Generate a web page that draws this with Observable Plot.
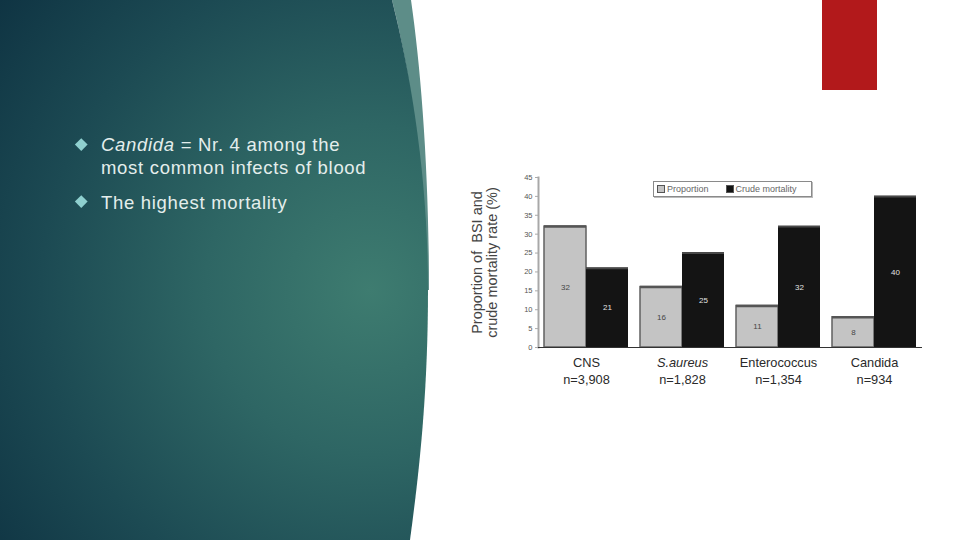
<!DOCTYPE html>
<html>
<head>
<meta charset="utf-8">
<script src="https://cdn.jsdelivr.net/npm/d3@7"></script>
<script src="https://cdn.jsdelivr.net/npm/@observablehq/plot@0.6"></script>
<style>
  html, body { margin: 0; padding: 0; }
  body { width: 960px; height: 540px; position: relative; overflow: hidden; background: #ffffff; font-family: "Liberation Sans", Arial, sans-serif; }
  #bg { position: absolute; left: 0; top: 0; }
  .line { position: absolute; left: 101px; font-size: 18.5px; line-height: 23px; color: #e4eeec; letter-spacing: 0.7px; white-space: nowrap; }
  .diamond { position: absolute; width: 8.5px; height: 8.5px; background: #8fd0cf; transform: rotate(45deg); }
  #redbox { position: absolute; left: 822px; top: 0; width: 55px; height: 90px; background: #b2191b; }
  #chart { position: absolute; left: 460px; top: 165px; }
  #legend { position: absolute; left: 653px; top: 181px; width: 157px; height: 14px; border: 1px solid #8a8a8a; box-shadow: 1px 1px 0 #bbb; background: #fff; font-size: 9px; color: #666; display: flex; align-items: center; }
  #legend .sw { display: inline-block; width: 6px; height: 6px; border: 1px solid #555; margin: 0 2px 0 3px; }
</style>
</head>
<body>
<svg id="bg" width="960" height="540">
  <defs>
    <radialGradient id="g" cx="370" cy="290" r="470" gradientUnits="userSpaceOnUse">
      <stop offset="0" stop-color="#3e7c70"/>
      <stop offset="0.35" stop-color="#2e6664"/>
      <stop offset="0.7" stop-color="#1c4a53"/>
      <stop offset="1" stop-color="#0f3443"/>
    </radialGradient>
  </defs>
  <path d="M392,0 L411,0 C421,70 429,170 429,290 L427,290 C424,170 410,70 392,0 Z" fill="#5d8d88"/>
  <path d="M0,0 L392,0 C412,80 428,180 428,290 C428,400 418,480 410,540 L0,540 Z" fill="url(#g)"/>
</svg>
<div id="redbox"></div>
<div class="diamond" style="left:76.5px; top:140px;"></div>
<div class="line" style="top:132.5px;"><i>Candida</i> = Nr. 4 among the</div>
<div class="line" style="top:155.5px;">most common infects of blood</div>
<div class="diamond" style="left:76.5px; top:197px;"></div>
<div class="line" style="top:190.5px;">The highest mortality</div>
<div id="chart"></div>
<div id="legend"><span class="sw" style="background:#c4c4c4"></span>Proportion<span class="sw" style="background:#141414; margin-left:17px"></span>Crude mortality</div>
<script>
const categories = ["CNS", "S.aureus", "Enterococcus", "Candida"];
const counts = ["n=3,908", "n=1,828", "n=1,354", "n=934"];
const series = ["Proportion", "Crude mortality"];
const proportion = [32, 16, 11, 8];
const mortality = [21, 25, 32, 40];
const yTicks = [0, 5, 10, 15, 20, 25, 30, 35, 40, 45];
const yLabel = "Proportion of  BSI and\ncrude mortality rate (%)";

const data = categories.flatMap((c, i) => [
  {cat: c, series: series[0], value: proportion[i]},
  {cat: c, series: series[1], value: mortality[i]}
]);
const prop = data.filter(d => d.series === series[0]);
const mort = data.filter(d => d.series === series[1]);

const chart = Plot.plot({
  width: 480,
  height: 235,
  marginLeft: 77,
  marginRight: 18,
  marginTop: 12,
  marginBottom: 53,
  style: {fontFamily: "Liberation Sans, Arial, sans-serif", background: "transparent"},
  fx: {domain: categories, padding: 0, axis: null},
  x: {domain: series, paddingInner: 0, paddingOuter: 0.14, axis: null},
  y: {domain: [0, 45], axis: null},
  color: {domain: series, range: ["#c4c4c4", "#141414"]},
  marks: [
    Plot.frame({anchor: "left", facetAnchor: "left", stroke: "#a8a8a8", strokeWidth: 2}),
    Plot.axisY({ticks: yTicks, tickSize: 3, tickPadding: 3, fontSize: 7.5, fill: "#555", stroke: "#aaa", label: null, facetAnchor: "left"}),
    Plot.barY(prop, {fx: "cat", x: "series", y: "value", fill: "series", stroke: "#606060", strokeWidth: 1.5}),
    Plot.barY(mort, {fx: "cat", x: "series", y: "value", fill: "series"}),
    Plot.tickY(prop, {fx: "cat", x: "series", y: "value", stroke: "#555", strokeWidth: 2.5}),
    Plot.tickY(mort, {fx: "cat", x: "series", y: "value", stroke: "#484848", strokeWidth: 2}),
    Plot.ruleY([0], {stroke: "#333", strokeWidth: 1.2}),
    Plot.text(prop, {fx: "cat", x: "series", y: d => d.value / 2, text: "value", fill: "#444", fontSize: 8}),
    Plot.text(mort, {fx: "cat", x: "series", y: d => d.value / 2, text: "value", fill: "#e2e2e2", fontSize: 8}),
    Plot.text(categories.filter(c => c !== "S.aureus"), {fx: d => d, text: d => d, frameAnchor: "bottom", dy: 19, fontSize: 12.8, fill: "#2a2a2a"}),
    Plot.text(categories.filter(c => c === "S.aureus"), {fx: d => d, text: d => d, frameAnchor: "bottom", dy: 19, fontSize: 12.8, fill: "#2a2a2a", fontStyle: "italic"}),
    Plot.text(categories, {fx: d => d, text: (d, i) => counts[i], frameAnchor: "bottom", dy: 36, fontSize: 12.8, fill: "#2a2a2a"}),
    Plot.text([yLabel], {frameAnchor: "left", textAnchor: "middle", rotate: -90, dx: -54, fontSize: 14.5, lineHeight: 1.04, fill: "#444", facetAnchor: "left"})
  ]
});
document.getElementById("chart").appendChild(chart);
</script>
</body>
</html>
